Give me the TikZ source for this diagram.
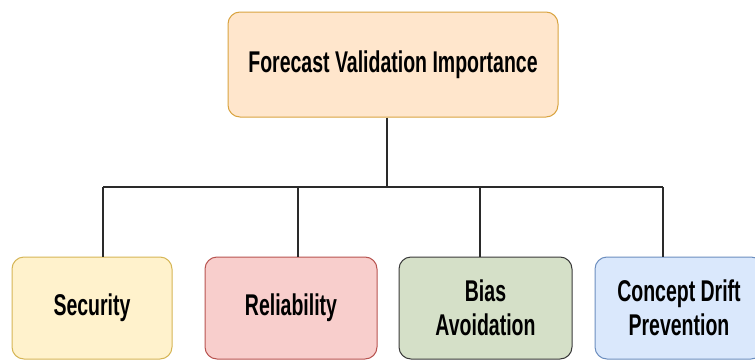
\documentclass[tikz,border=0pt]{standalone}
\usepackage{fontspec}
\newfontfamily\narrowsans{Liberation Sans}[FakeStretch=0.65]
\definecolor{topfill}{HTML}{FFE6CC}
\definecolor{topdraw}{HTML}{D9A441}
\definecolor{secfill}{HTML}{FFF2CC}
\definecolor{secdraw}{HTML}{D6B656}
\definecolor{relfill}{HTML}{F8CECC}
\definecolor{reldraw}{HTML}{B85450}
\definecolor{biafill}{HTML}{D5E0C8}
\definecolor{biadraw}{HTML}{3A3A3A}
\definecolor{confill}{HTML}{DAE8FC}
\definecolor{condraw}{HTML}{6C8EBF}
\definecolor{linkcol}{HTML}{2A2A2A}
\begin{document}
\begin{tikzpicture}[x=1pt,y=1pt,
  box/.style={rectangle, rounded corners=12pt, line width=1pt, align=center,
    inner sep=0pt, font=\narrowsans\bfseries\fontsize{30}{34}\selectfont},
  link/.style={draw=linkcol, line width=1.4pt}]
\clip (0,0) rectangle (755,360);
\fill[white] (0,0) rectangle (755,360);
\node[box, fill=topfill, draw=topdraw, minimum width=330pt, minimum height=105pt] (top) at (393,295.5) {Forecast Validation Importance};
\node[box, fill=secfill, draw=secdraw, minimum width=160pt, minimum height=102pt] (sec) at (92,52) {Security};
\node[box, fill=relfill, draw=reldraw, minimum width=172pt, minimum height=102pt] (rel) at (291,52) {Reliability};
\node[box, fill=biafill, draw=biadraw, minimum width=173pt, minimum height=102pt] (bia) at (485.5,52) {Bias\\Avoidation};
\node[box, fill=confill, draw=condraw, minimum width=168pt, minimum height=102pt] (con) at (679,52) {Concept Drift\\Prevention};
\coordinate (j0) at (387,173);
\coordinate (h1) at (103,173);
\coordinate (h2) at (298,173);
\coordinate (h3) at (480,173);
\coordinate (h4) at (663,173);
\draw[link] (j0 |- top.south) -- (j0);
\draw[link] (h1) -- (h4);
\draw[link] (h1) -- (h1 |- sec.north);
\draw[link] (h2) -- (h2 |- rel.north);
\draw[link] (h3) -- (h3 |- bia.north);
\draw[link] (h4) -- (h4 |- con.north);
\end{tikzpicture}
\end{document}
